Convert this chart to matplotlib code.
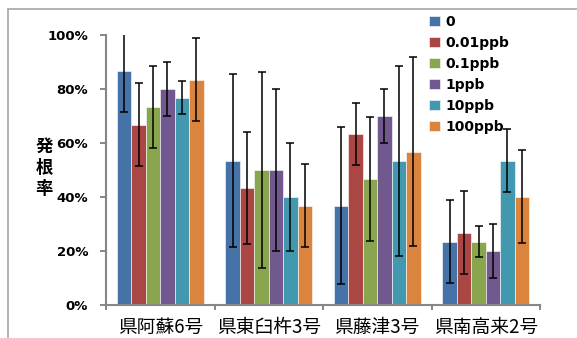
import numpy as np
import matplotlib.pyplot as plt
from matplotlib.patches import Rectangle

plt.rcParams['font.family'] = ['Noto Sans CJK JP', 'DejaVu Sans']

# 品種
cultivars = ['県阿蘇6号', '県東臼杵3号', '県藤津3号', '県南高来2号']
series = ['0', '0.01ppb', '0.1ppb', '1ppb', '10ppb', '100ppb']
colors = ['#4572A7', '#AA4643', '#89A54E', '#71588F', '#4198AF', '#DB843D']

# 発根率 (%) 各濃度
v_0 = [86.7, 53.3, 36.7, 23.3]
v_001 = [66.7, 43.3, 63.3, 26.7]
v_01 = [73.3, 50.0, 46.7, 23.3]
v_1 = [80.0, 50.0, 70.0, 20.0]
v_10 = [76.7, 40.0, 53.3, 53.3]
v_100 = [83.3, 36.7, 56.7, 40.0]

# 誤差 (%)
e_0 = [15.3, 32.0, 29.0, 15.3]
e_001 = [15.3, 20.8, 11.5, 15.3]
e_01 = [15.2, 36.3, 23.0, 5.8]
e_1 = [10.0, 30.0, 10.0, 10.0]
e_10 = [6.2, 20.0, 35.2, 11.7]
e_100 = [15.3, 15.3, 35.0, 17.3]

vals = [v_0, v_001, v_01, v_1, v_10, v_100]
errs = [e_0, e_001, e_01, e_1, e_10, e_100]

fig = plt.figure(figsize=(5.77, 3.38), dpi=100)
# 外枠
fig.patches.append(Rectangle((8 / 577, -0.1), 1.2, (338 - 9) / 338 + 0.1,
                             transform=fig.transFigure, fill=False,
                             edgecolor='#A6A6A6', linewidth=1.2))

ax = fig.add_axes([106 / 577, (338 - 304.7) / 338, 434 / 577, 270 / 338])

x = np.arange(len(cultivars))
w = 1 / 7.5
for i in range(len(series)):
    pos = x - 3 * w + w / 2 + i * w
    ax.bar(pos, np.array(vals[i]) / 100, w, color=colors[i],
           edgecolor='white', linewidth=0.4, label=series[i])
    ax.errorbar(pos, np.array(vals[i]) / 100, yerr=np.array(errs[i]) / 100,
                fmt='none', ecolor='black', elinewidth=1.1, capsize=3,
                capthick=1.1)

ax.set_xlim(-0.5, len(cultivars) - 0.5)
ax.set_ylim(0, 1)
ax.set_yticks(np.arange(0, 1.01, 0.2))
ax.set_yticklabels([f'{int(t * 100)}%' for t in np.arange(0, 1.01, 0.2)],
                   fontsize=9.5, fontweight='bold', family='DejaVu Sans')
ax.set_xticks(np.arange(-0.5, len(cultivars)))
ax.set_xticklabels([])
ax.set_xticks(x, minor=True)
ax.set_xticklabels(cultivars, minor=True, fontsize=13.5)
ax.tick_params(axis='x', which='minor', length=0, pad=9)
ax.tick_params(axis='x', which='major', length=3.6, width=1.4, color='#868686')
ax.tick_params(axis='y', length=4.3, width=1.4, color='#868686', pad=8.5)

for s in ['top', 'right']:
    ax.spines[s].set_visible(False)
for s in ['left', 'bottom']:
    ax.spines[s].set_color('#868686')
    ax.spines[s].set_linewidth(1.5)

fig.text(44 / 577, 1 - 168 / 338, '発\n根\n率', ha='center', va='center',
         fontsize=12.5, fontweight='bold', linespacing=1.2)

ax.legend(loc='upper left', bbox_to_anchor=(429 / 577, 1 - 15 / 338),
          bbox_transform=fig.transFigure, frameon=False,
          prop={'family': 'DejaVu Sans', 'weight': 'bold', 'size': 10},
          handlelength=0.8, handleheight=0.8, handletextpad=0.35,
          labelspacing=0.5, borderpad=0, borderaxespad=0)

fig.savefig('out.png', dpi=100)
